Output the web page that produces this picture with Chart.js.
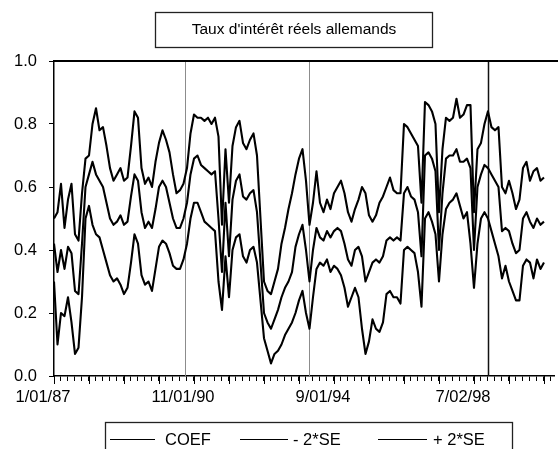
<!DOCTYPE html>
<html>
<head>
<meta charset="utf-8">
<script src="https://cdn.jsdelivr.net/npm/chart.js@4.4.1/dist/chart.umd.min.js"></script>
<style>
  html, body { margin: 0; padding: 0; background: #fff; }
  #wrap { width: 558px; height: 449px; position: relative; }
  canvas { display: block; }
</style>
</head>
<body>
<div id="wrap"><canvas id="c" width="558" height="449"></canvas></div>
<script>
// Real German interest rates: rolling coefficient with a +/- 2 standard error band
const chartTitle = "Taux d'intérêt réels allemands";
const seriesNames = ['COEF', '- 2*SE', '+ 2*SE'];
const dateLabels = ['1/01/87', '11/01/90', '9/01/94', '7/02/98'];
const samplesPerLabel = 40;     // samples between two dated ticks
const axisSlots = 144;          // sample slots along the time axis
const yTicks = [0, 0.2, 0.4, 0.6, 0.8, 1.0];

// coefficient estimate
const coef = [
  .42,.33,.40,.34,.41,.39,.27,.26,.42,.60,
  .64,.68,.64,.62,.60,.55,.50,.48,.49,.51,
  .48,.49,.57,.64,.62,.52,.47,.49,.47,.53,
  .60,.62,.60,.55,.50,.47,.47,.50,.55,.64,
  .69,.70,.67,.66,.65,.64,.65,.50,.33,.55,
  .38,.56,.62,.64,.57,.56,.58,.59,.52,.36,
  .20,.17,.15,.18,.21,.25,.28,.30,.33,.41,
  .45,.48,.40,.30,.40,.47,.44,.43,.46,.44,
  .46,.47,.46,.42,.37,.35,.40,.41,.38,.30,
  .33,.36,.37,.36,.38,.43,.44,.43,.44,.43,
  .58,.60,.57,.56,.52,.38,.70,.71,.69,.65,
  .40,.58,.69,.70,.70,.72,.68,.68,.69,.66,
  .40,.60,.64,.67,.66,.64,.62,.60,.46,.47,
  .46,.42,.39,.40,.50,.52,.49,.47,.50,.48,
  .49
];
// coefficient - 2 standard errors
const lowBand = [
  .30,.10,.20,.19,.25,.17,.07,.09,.25,.50,
  .54,.48,.45,.44,.40,.36,.32,.30,.31,.29,
  .26,.28,.36,.45,.42,.32,.29,.30,.27,.34,
  .41,.43,.42,.39,.35,.34,.34,.37,.42,.50,
  .55,.55,.52,.49,.48,.47,.46,.30,.21,.38,
  .25,.40,.44,.45,.38,.36,.40,.41,.36,.24,
  .12,.08,.04,.07,.08,.10,.13,.15,.17,.20,
  .24,.27,.20,.15,.25,.34,.36,.35,.37,.33,
  .35,.34,.32,.28,.22,.25,.28,.25,.15,.07,
  .11,.18,.15,.14,.17,.26,.27,.25,.25,.23,
  .40,.41,.40,.39,.33,.22,.50,.52,.49,.45,
  .30,.45,.53,.55,.56,.58,.54,.50,.52,.42,
  .28,.42,.50,.52,.50,.46,.42,.38,.31,.35,
  .30,.27,.24,.24,.35,.37,.36,.31,.37,.34,
  .36
];
// coefficient + 2 standard errors
const highBand = [
  .50,.52,.61,.47,.56,.61,.45,.43,.58,.69,
  .70,.80,.85,.78,.79,.73,.66,.62,.64,.66,
  .62,.63,.73,.84,.82,.66,.61,.63,.60,.68,
  .74,.78,.75,.71,.64,.58,.59,.61,.66,.77,
  .83,.82,.82,.81,.82,.80,.82,.76,.48,.72,
  .55,.73,.79,.81,.74,.72,.75,.77,.70,.50,
  .30,.27,.26,.30,.34,.42,.47,.53,.58,.64,
  .69,.72,.62,.48,.55,.65,.55,.52,.56,.53,
  .58,.60,.62,.58,.52,.49,.53,.56,.60,.58,
  .51,.49,.51,.55,.57,.60,.63,.59,.58,.58,
  .80,.79,.77,.75,.73,.55,.87,.86,.84,.80,
  .52,.72,.82,.81,.82,.88,.82,.83,.86,.86,
  .52,.72,.74,.80,.84,.79,.78,.79,.60,.58,
  .62,.58,.53,.56,.66,.68,.62,.65,.66,.62,
  .63
];
// vertical reference lines, in sample units along the time axis
const markerSlots = [37.5, 73, 124];

const FONT = "'Liberation Sans', Arial, Helvetica, sans-serif";

const slotLabels = [];
for (let i = 0; i < axisSlots; i++) {
  slotLabels.push(i % samplesPerLabel === 0 ? (dateLabels[i / samplesPerLabel] || '') : '');
}

const decorations = {
  id: 'decorations',
  beforeDatasetsDraw(chart) {
    const { ctx, chartArea: a, scales: { x } } = chart;
    ctx.save();
    const colors = ['#8c8c8c', '#8c8c8c', '#111'];
    const widths = [1, 1, 1.5];
    markerSlots.forEach((m, k) => {
      const px = Math.round(x.getPixelForValue(m)) + 0.5;
      ctx.strokeStyle = colors[k];
      ctx.lineWidth = widths[k];
      ctx.beginPath();
      ctx.moveTo(px, a.top);
      ctx.lineTo(px, a.bottom);
      ctx.stroke();
    });
    ctx.restore();
  },
  afterDraw(chart) {
    const { ctx, chartArea: a, scales: { x } } = chart;
    ctx.save();
    // top frame line
    ctx.strokeStyle = '#000';
    ctx.lineWidth = 2;
    ctx.beginPath();
    ctx.moveTo(a.left, a.top);
    ctx.lineTo(chart.width, a.top);
    ctx.stroke();
    // longer major ticks on the time axis
    ctx.lineWidth = 1;
    for (let i = 0; i < axisSlots; i += 10) {
      const px = Math.round(x.getPixelForValue(i)) + 0.5;
      ctx.beginPath();
      ctx.moveTo(px, a.bottom);
      ctx.lineTo(px, a.bottom + 8);
      ctx.stroke();
    }
    // boxed title
    ctx.lineWidth = 1.3;
    ctx.strokeStyle = '#222';
    ctx.strokeRect(155.5, 12.5, 277, 35);
    ctx.fillStyle = '#000';
    ctx.font = '15.5px ' + FONT;
    ctx.textAlign = 'center';
    ctx.textBaseline = 'middle';
    ctx.fillText(chartTitle, 294, 30);
    // boxed legend
    ctx.strokeRect(105.5, 422.5, 407, 40);
    const items = [
      { x0: 110, x1: 155, tx: 165 },
      { x0: 240, x1: 288, tx: 293 },
      { x0: 378, x1: 427, tx: 433 }
    ];
    ctx.font = '16.5px ' + FONT;
    ctx.textAlign = 'left';
    chart.data.datasets.forEach((ds, k) => {
      const it = items[k];
      ctx.strokeStyle = ds.borderColor;
      ctx.lineWidth = 1;
      ctx.beginPath();
      ctx.moveTo(it.x0, 439.5);
      ctx.lineTo(it.x1, 439.5);
      ctx.stroke();
      ctx.fillText(ds.label, it.tx, 440);
    });
    ctx.restore();
  }
};

const lineStyle = {
  borderColor: '#000',
  borderWidth: 2.1,
  pointRadius: 0,
  tension: 0,
  fill: false,
  borderJoinStyle: 'round',
  spanGaps: false
};

new Chart(document.getElementById('c'), {
  type: 'line',
  data: {
    labels: slotLabels,
    datasets: [
      Object.assign({ label: seriesNames[0], data: coef }, lineStyle),
      Object.assign({ label: seriesNames[1], data: lowBand }, lineStyle),
      Object.assign({ label: seriesNames[2], data: highBand }, lineStyle)
    ]
  },
  options: {
    responsive: false,
    animation: false,
    devicePixelRatio: 1,
    layout: { padding: { top: 61, right: 3.5, left: 0, bottom: 0 } },
    plugins: {
      legend: { display: false },
      title: { display: false },
      tooltip: { enabled: false }
    },
    scales: {
      x: {
        type: 'category',
        offset: false,
        afterFit(s) { s.height = 73; },
        grid: { display: true, drawOnChartArea: false, drawTicks: true, tickLength: 5, color: '#000', tickColor: '#000', tickWidth: 1 },
        border: { display: true, color: '#000', width: 1.5 },
        ticks: {
          autoSkip: false, maxRotation: 0, minRotation: 0,
          labelOffset: -11, padding: 7, color: '#000',
          font: { family: FONT, size: 16.5 },
          callback(val, idx) {
            if (idx % 2) return null;
            return this.getLabelForValue(val);
          }
        }
      },
      y: {
        min: 0, max: 1,
        afterFit(s) { s.width = 54; },
        afterBuildTicks(s) { s.ticks = yTicks.map(v => ({ value: v })); },
        grid: { display: true, drawOnChartArea: false, drawTicks: true, tickLength: 5, color: '#000', tickColor: '#000' },
        border: { display: true, color: '#000', width: 1.5 },
        ticks: {
          padding: 12, color: '#000',
          font: { family: FONT, size: 16.5 },
          callback: v => Number(v).toFixed(1)
        }
      }
    }
  },
  plugins: [decorations]
});
</script>
</body>
</html>
